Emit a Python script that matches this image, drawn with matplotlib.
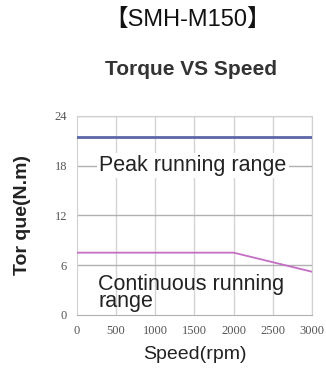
import matplotlib
matplotlib.use("Agg")
import matplotlib.pyplot as plt

# data
speed_peak = [0, 3000]
torque_peak = [21.5, 21.5]
speed_cont = [0, 2000, 3000]
torque_cont = [7.5, 7.5, 5.2]
x_ticks = [0, 500, 1000, 1500, 2000, 2500, 3000]
y_ticks = [0, 6, 12, 18, 24]

plt.rcParams['font.family'] = ['Liberation Sans', 'Noto Sans CJK SC', 'DejaVu Sans']

fig = plt.figure(figsize=(3.26, 3.70), dpi=100)
ax = fig.add_axes([0.236, 0.149, 0.721, 0.538])

ax.set_xlim(0, 3000)
ax.set_ylim(0, 24)
ax.set_xticks(x_ticks)
ax.set_yticks(y_ticks)

for x in x_ticks[1:]:
    ax.axvline(x, color='#d4d4d4', lw=1.0, zorder=0)
for y in y_ticks[1:]:
    ax.axhline(y, color='#b0b0b0', lw=1.0, zorder=0)

for side in ['top', 'right', 'left']:
    ax.spines[side].set_color('#d0d0d0')
ax.spines['bottom'].set_color('#b0b0b0')

ax.plot(speed_peak, torque_peak, color='#5b66a8', lw=2.0, zorder=3)
ax.plot(speed_cont, torque_cont, color='#c46ec4', lw=1.3, zorder=3)

ax.text(1480, 18, 'Peak running range', fontsize=15.5, color='#222222',
        ha='center', va='center', zorder=4,
        bbox=dict(facecolor='white', edgecolor='none', pad=1.5))
ax.text(270, 4.95, 'Continuous running\nrange', fontsize=15.5, color='#222222',
        ha='left', va='top', linespacing=0.78, zorder=4)

ax.tick_params(length=0, labelsize=9, labelcolor='#555555', pad=7)
for lab in ax.get_xticklabels() + ax.get_yticklabels():
    lab.set_family(['Liberation Serif', 'DejaVu Serif'])

ax.set_xlabel('Speed(rpm)', fontsize=14, color='#222222', labelpad=7)
ax.set_ylabel('Tor que(N.m)', fontsize=14, color='#222222', labelpad=17,
              fontweight='bold')

fig.text(0.585, 0.813, 'Torque VS Speed', fontsize=15, color='#333333',
         ha='center', va='center', fontweight='bold')
fig.text(0.575, 0.945, '【SMH-M150】', fontsize=17, color='#111111',
         ha='center', va='center')

fig.savefig('out.png', dpi=100)
